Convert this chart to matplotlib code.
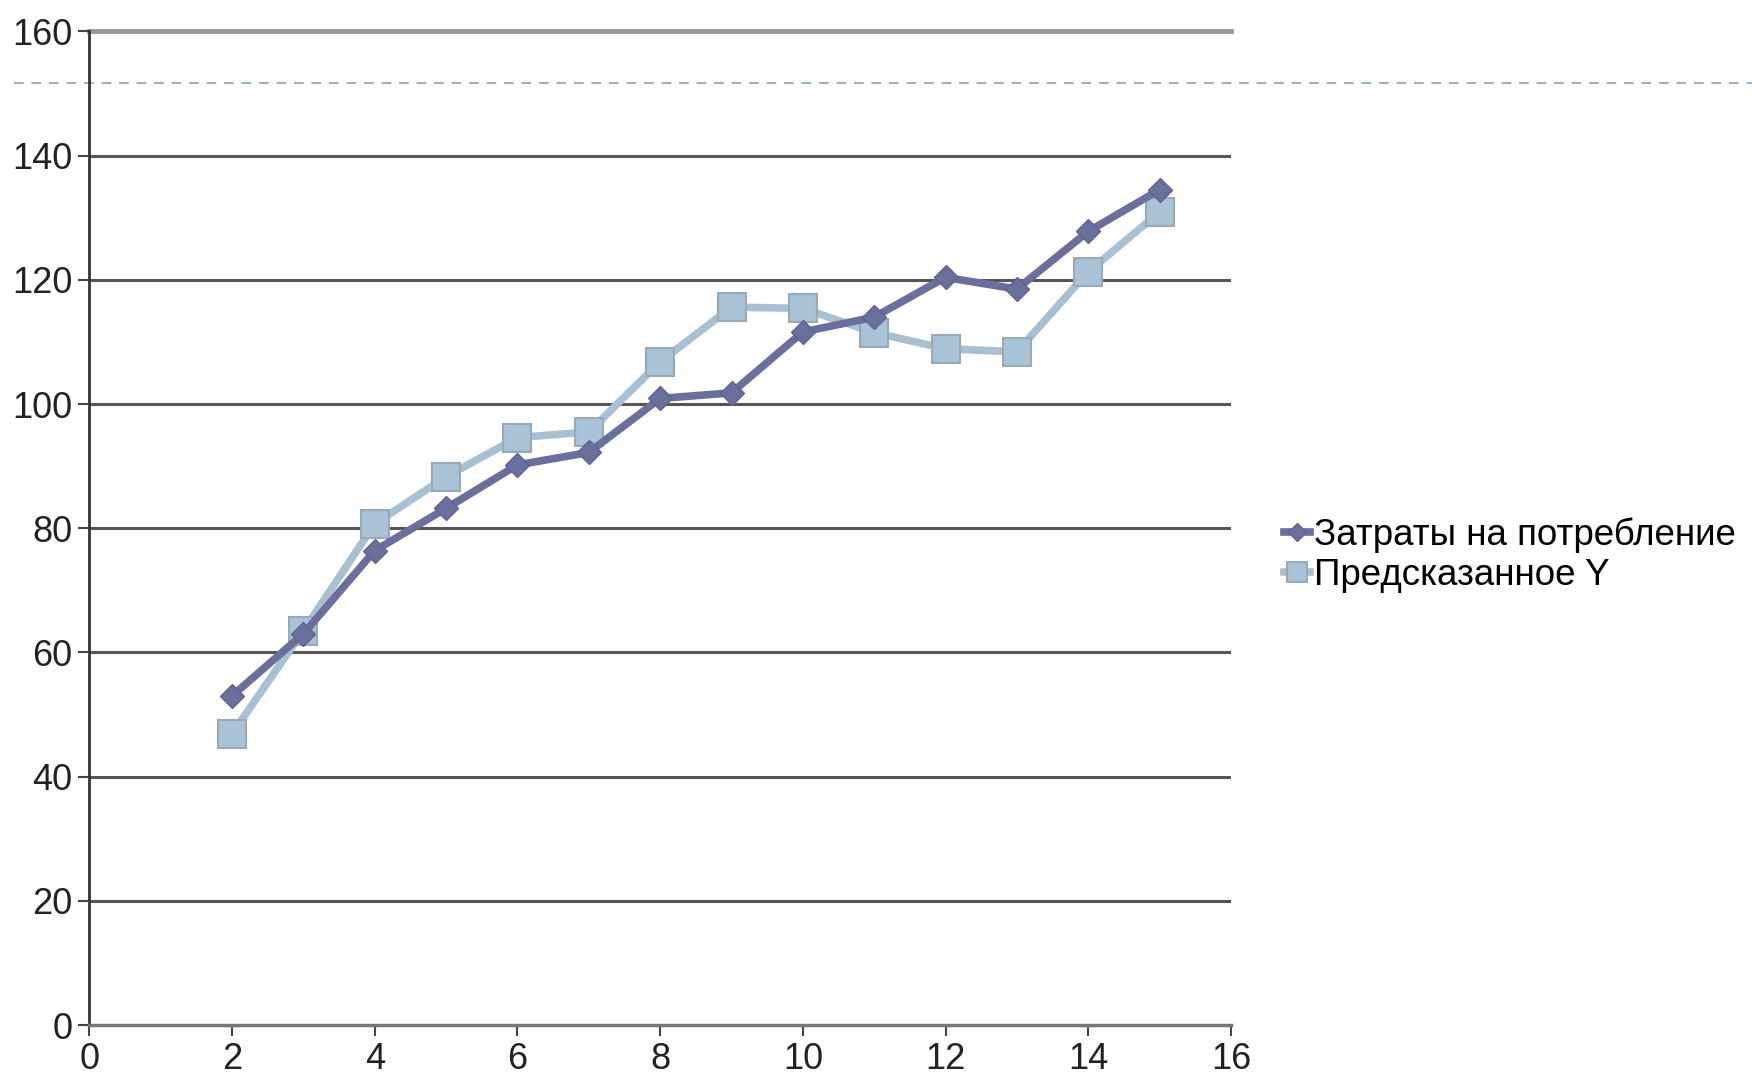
import numpy as np
import matplotlib.pyplot as plt
from matplotlib.lines import Line2D

plt.rcParams['font.family'] = ['Liberation Sans', 'DejaVu Sans']

x_vals = [2, 3, 4, 5, 6, 7, 8, 9, 10, 11, 12, 13, 14, 15]
costs = [53.0, 63.0, 76.4, 83.2, 90.2, 92.2, 100.9, 101.8, 111.6, 114.0, 120.4, 118.5, 127.8, 134.5]
predicted = [46.9, 63.5, 80.7, 88.3, 94.6, 95.5, 106.8, 115.6, 115.4, 111.5, 108.9, 108.4, 121.3, 130.9]
series_names = ['Затраты на потребление', 'Предсказанное Y']
x_ticks = list(range(0, 17, 2))
y_ticks = list(range(0, 161, 20))
dash_level = 151.7

fig = plt.figure(figsize=(17.52, 10.83), dpi=100)
ax = fig.add_axes([0.051, 0.0535, 0.6516, 0.9175])

for y in y_ticks[1:-1]:
    ax.axhline(y, color='#555555', lw=2.2, zorder=1)
ax.axhline(y_ticks[-1], color='#999999', lw=3.5, zorder=1, clip_on=False)

ax.plot(x_vals, costs, color='#6b6f9b', lw=5.5, marker='D', ms=12,
        mfc='#6b6f9b', mec='#5f6390', label=series_names[0], zorder=3)
ax.plot(x_vals, predicted, color='#a9c0d3', lw=5.5, marker='s', ms=20,
        mfc='#a8c2d8', mec='#9aa9b6', mew=1.5, label=series_names[1], zorder=2)

ax.axhline(dash_level, xmin=-0.066, xmax=1.46, color='#9ab0c8', lw=1.4,
           ls=(0, (5, 4)), clip_on=False, zorder=0)

ax.set_xlim(0, 16)
ax.set_ylim(0, 160)
ax.set_xticks(x_ticks)
ax.set_yticks(y_ticks)
for s in ['top', 'right']:
    ax.spines[s].set_visible(False)
ax.spines['left'].set_color('#333333')
ax.spines['left'].set_linewidth(2)
ax.spines['bottom'].set_color('#777777')
ax.spines['bottom'].set_linewidth(2.5)
ax.tick_params(axis='both', direction='out', length=8, width=1.5, color='#444444',
               labelsize=26, labelcolor='#222222', pad=4)

leg = ax.legend(loc='center left', bbox_to_anchor=(1.024, 0.473), frameon=False,
                fontsize=26.5, handlelength=0.7, handletextpad=0.1, labelspacing=0.12,
                markerscale=0.75, borderaxespad=0.3)

fig.savefig('out.png', dpi=100)
